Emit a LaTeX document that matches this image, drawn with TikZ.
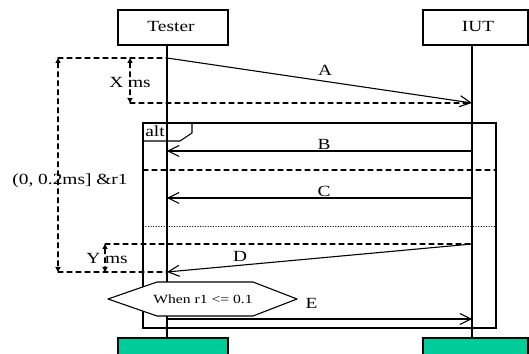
\documentclass[tikz,border=0pt]{standalone}
\usepackage{fontspec}
\setmainfont{Liberation Serif}
\usepackage{tkz-euclide}
\usetikzlibrary{arrows.meta}
\definecolor{verdeplano}{RGB}{0,204,153}
\tikzset{
  etiq/.style={font=\fontsize{15.5}{17}\selectfont, xscale=1.25, transform shape},
  etiqchica/.style={font=\fontsize{12.5}{14}\selectfont, xscale=1.25, transform shape},
  linea/.style={line width=1.1pt},
  guion/.style={line width=1.1pt, dash pattern=on 5pt off 4pt},
  mensaje/.style={line width=1.1pt, -{Straight Barb[length=11pt,width=11pt]}},
  cota/.style={line width=1.1pt, dash pattern=on 5pt off 4pt,
    {Triangle[length=5pt,width=5pt]}-{Triangle[length=5pt,width=5pt]}}
}

\begin{document}
\begin{tikzpicture}[x=1pt,y=1pt]
        \useasboundingbox (0,0) rectangle (529,353);

        % Paso 1: Define las cajas de las entidades
        \tkzDefPoint(118,308){ta} \tkzDefPoint(228,343){tb}
        \tkzDefPoint(423,308){ia} \tkzDefPoint(528,343){ib}
        \draw[linea] (ta) rectangle (tb);
        \draw[linea] (ia) rectangle (ib);
        \tkzText[etiq](171,326){Tester}
        \tkzText[etiq](478,326.5){IUT}

        % Paso 2: Dibuja las líneas de vida y los bloques finales
        \tkzDefPoint(167,308){T1} \tkzDefPoint(167,15){T2}
        \tkzDefPoint(472,308){I1} \tkzDefPoint(472,15){I2}
        \tkzDefPoint(118,15){ga} \tkzDefPoint(228,-5){gb}
        \tkzDefPoint(423,15){ha} \tkzDefPoint(528,-5){hb}
        \draw[linea, fill=verdeplano] (ga) rectangle (gb);
        \draw[linea, fill=verdeplano] (ha) rectangle (hb);
        \tkzDrawSegments[linea](T1,T2 I1,I2)

        % Paso 3: Mensaje A y su cota X
        \tkzDefPoint(167,295){A1} \tkzDefPoint(472,250){A2}
        \tkzDefPoint(58,295){K1}
        \tkzDefPoint(130,295){X1} \tkzDefPoint(130,250){X2}
        \tkzDrawSegments[guion](K1,A1 X2,A2)
        \tkzDrawSegments[mensaje](A1,A2)
        \tkzDrawSegments[cota](X1,X2)
        \tkzText[etiq](325,283){A}
        \tkzText[etiq](130,270){X ms}

        % Paso 4: Marco alt con sus separadores
        \tkzDefPoint(143,230){F1} \tkzDefPoint(496,25){F2}
        \draw[linea] (F1) rectangle (F2);
        \tkzDefPoint(192,230){L1} \tkzDefPoint(192,220){L2}
        \tkzDefPoint(180,212){L3} \tkzDefPoint(143,212){L4}
        \tkzDrawPolySeg[linea](L1,L2,L3,L4)
        \tkzText[etiq](155,222){alt}
        \tkzDefPoint(143,183){S1} \tkzDefPoint(496,183){S2}
        \tkzDefPoint(143,127){S3} \tkzDefPoint(496,127){S4}
        \tkzDrawSegments[guion](S1,S2)
        \tkzDrawSegments[line width=0.6pt, dotted](S3,S4)

        % Paso 5: Mensajes B y C
        \tkzDefPoint(472,202){B1} \tkzDefPoint(167,202){B2}
        \tkzDefPoint(472,155){C1} \tkzDefPoint(167,155){C2}
        \tkzDrawSegments[mensaje](B1,B2 C1,C2)
        \tkzText[etiq](324,209){B}
        \tkzText[etiq](324,162){C}

        % Paso 6: Mensaje D, cota Y y cota total
        \tkzDefPoint(472,109){D1} \tkzDefPoint(167,81){D2}
        \tkzDefPoint(105,109){Y1} \tkzDefPoint(105,81){Y2}
        \tkzDefPoint(58,81){K2}
        \tkzDrawSegments[guion](Y1,D1 K2,D2)
        \tkzDrawSegments[mensaje](D1,D2)
        \tkzDrawSegments[cota](Y1,Y2 K1,K2)
        \tkzText[etiq](240,97){D}
        \tkzText[etiq](107,94.5){Y ms}
        \tkzText[etiq](70,172){(0, 0.2ms] \&r1}

        % Paso 7: Condición y mensaje E
        \tkzDefPoint(108,54){H1} \tkzDefPoint(157,71){H2}
        \tkzDefPoint(253,71){H3} \tkzDefPoint(297,54){H4}
        \tkzDefPoint(253,37){H5} \tkzDefPoint(157,37){H6}
        \tkzDrawPolygon[linea, fill=white](H1,H2,H3,H4,H5,H6)
        \tkzText[etiqchica](203,54){When r1 <= 0.1}
        \tkzDefPoint(167,34){E1} \tkzDefPoint(472,34){E2}
        \tkzDrawSegments[mensaje](E1,E2)
        \tkzText[etiq](311.5,50){E}
    \end{tikzpicture}
\end{document}
